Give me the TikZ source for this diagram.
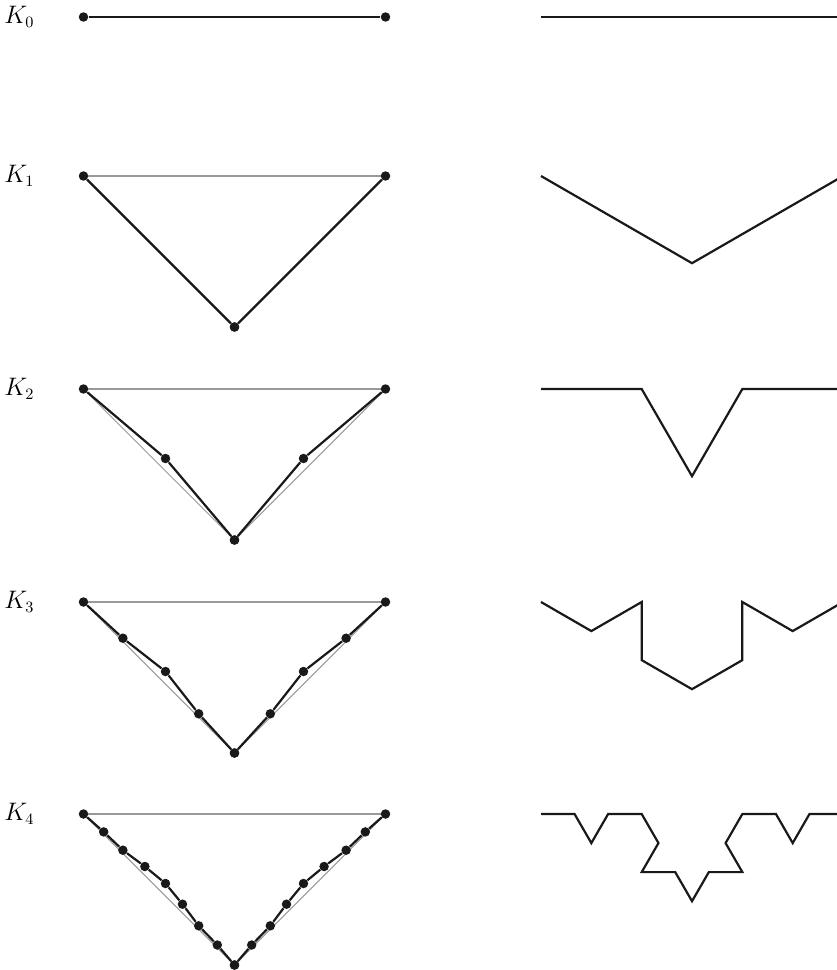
\documentclass[tikz,border=0pt]{standalone}
\usepackage{tikz}
\usetikzlibrary{positioning, backgrounds}

\tikzset{
  dot/.style={circle, fill=black!90, inner sep=0pt, minimum size=5.4pt},
  curve/.style={black!90, line width=1.25pt, line join=miter},
  guide/.style={black!40, line width=0.6pt},
  lab/.style={inner sep=0pt, font=\fontsize{13.5}{16}\selectfont}
}

\begin{document}
\begin{tikzpicture}[x=0.02cm, y=-0.02cm]
    \useasboundingbox (0,0) rectangle (836,970);

    % Labels
    \foreach \row/\y in {0/17, 1/176, 2/389, 3/602, 4/814}
      \node[lab, anchor=base west] (k\row) at (4,\y+6.5) {$K_{\row}$};

    % K0, left column
    \node[dot] (a0-1) at (83.5,17) {};
    \node[dot] (b0-1) at (385.5,17) {};
    \draw[curve] (a0-1) -- (b0-1);

    % Left column: half of each polygon, mirrored about the bottom point
    \foreach \row/\y/\last/\pts in {
        1/176/2/{0/0, 151/151},
        2/389/3/{0/0, 82/69.5, 151/151},
        3/602/5/{0/0, 39.4/36.2, 82/69.5, 115.2/111.8, 151/151},
        4/814/9/{0/0, 20.2/17.9, 39.4/36.2, 61.4/52.5, 82/69.5, 99/90.2, 115.2/111.8, 133.8/131, 151/151}} {
      \foreach \px/\py [count=\i] in \pts {
        \node[dot] (a\row-\i) at (83.5+\px,\y+\py) {};
        \node[dot] (b\row-\i) at (385.5-\px,\y+\py) {};
      }
      % grey guides: K0 and K1
      \begin{pgfonlayer}{background}
        \draw[guide] (a\row-1.center) -- (b\row-1.center);
        \ifnum\row>1
          \draw[guide] (a\row-1.center) -- (a\row-\last.center);
          \draw[guide] (b\row-1.center) -- (b\row-\last.center);
        \fi
      \end{pgfonlayer}
      \foreach \px/\py [count=\i, remember=\i as \j (initially 0)] in \pts {
        \ifnum\i>1
          \draw[curve] (a\row-\j) -- (a\row-\i);
          \draw[curve] (b\row-\j) -- (b\row-\i);
        \fi
      }
    }

    % Right column: the curves by turning angles
    \foreach \row/\y/\len/\dirs in {
        0/17/302/{0},
        1/176/174.36/{30,-30},
        2/389/100.67/{0,60,-60,0},
        3/602/58.12/{30,-30,90,30,-30,-90,30,-30},
        4/814/33.56/{0,60,-60,0,60,120,0,60,-60,0,-120,-60,0,60,-60,0}} {
      \coordinate (s\row) at (541,\y);
      \draw[curve] (s\row) \foreach \d in \dirs { -- ++(\d:\len) };
    }

\end{tikzpicture}
\end{document}
